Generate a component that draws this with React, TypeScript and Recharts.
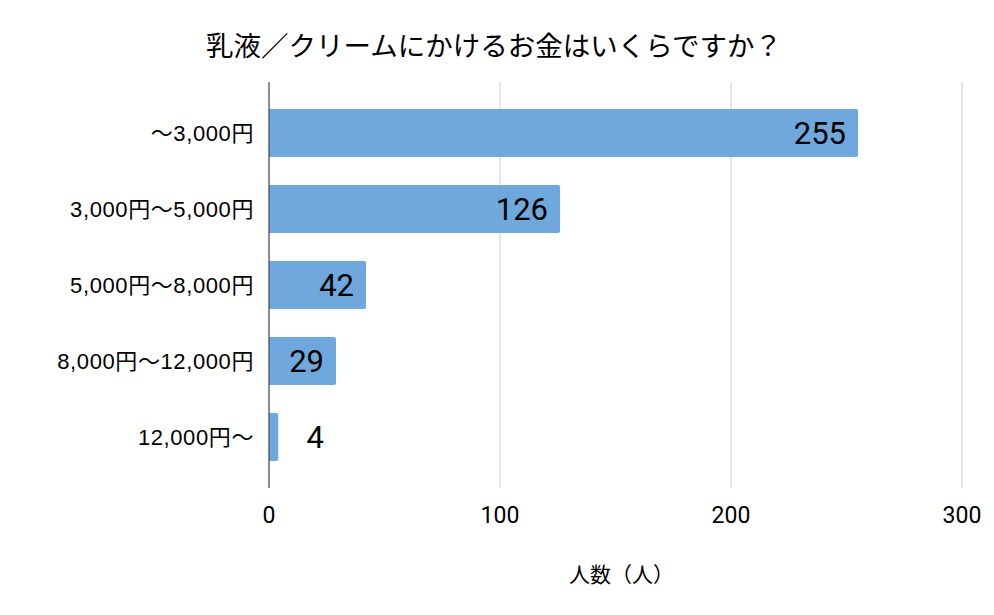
import React from "react";
import { BarChart, Bar, XAxis, YAxis, CartesianGrid, LabelList } from "recharts";

const categories = ["～3,000円", "3,000円～5,000円", "5,000円～8,000円", "8,000円～12,000円", "12,000円～"];
const counts = [255, 126, 42, 29, 4];
const xTicks = [0, 100, 200, 300];
const title = "乳液／クリームにかけるお金はいくらですか？";
const xLabel = "人数（人）";

const data = categories.map((c, i) => ({ name: c, value: counts[i] }));

const FONT = "Roboto, 'Noto Sans CJK JP', sans-serif";
const TICK_FONT = "'Liberation Sans', 'Noto Sans CJK JP', sans-serif";

const ValueLabel = (props: any) => {
  const { x, y, width, height, value } = props;
  const right = Math.max(x + width - 12, x + 55);
  return (
    <text
      x={right}
      y={y + height / 2}
      textAnchor="end"
      dominantBaseline="central"
      fontSize={31}
      fontFamily={FONT}
      fill="#000"
    >
      {value}
    </text>
  );
};

export default function App() {
  return (
    <div style={{ position: "absolute", left: 0, top: 0, width: 994, height: 615, background: "#fff", fontFamily: FONT }}>
      <div
        style={{
          position: "absolute",
          left: 0,
          width: 988,
          top: 29,
          textAlign: "center",
          fontSize: 27.5,
          lineHeight: "36px",
          color: "#000",
        }}
      >
        {title}
      </div>
      <BarChart
        width={994}
        height={615}
        data={data}
        layout="vertical"
        margin={{ top: 82, right: 32, bottom: 0, left: 0 }}
        barSize={48}
      >
        <CartesianGrid horizontal={false} stroke="#cccccc" />
        <XAxis
          type="number"
          domain={[0, 300]}
          ticks={xTicks}
          axisLine={false}
          tickLine={false}
          height={127}
          tickMargin={13}
          tick={{ fontSize: 23, fill: "#000", fontFamily: FONT }}
          label={{ value: xLabel, position: "insideBottom", offset: 33, dx: 6, fontSize: 21, fill: "#000", fontFamily: FONT }}
        />
        <YAxis
          type="category"
          dataKey="name"
          width={269}
          axisLine={{ stroke: "#333333" }}
          tickLine={false}
          tickMargin={9}
          padding={{ top: 13, bottom: 13 }}
          tick={{ fontSize: 22, fill: "#000", fontFamily: TICK_FONT, letterSpacing: 0.6 }}
        />
        <Bar dataKey="value" fill="#6fa8dc" radius={[0, 2, 2, 0]} isAnimationActive={false}>
          <LabelList dataKey="value" content={ValueLabel} />
        </Bar>
      </BarChart>
    </div>
  );
}
